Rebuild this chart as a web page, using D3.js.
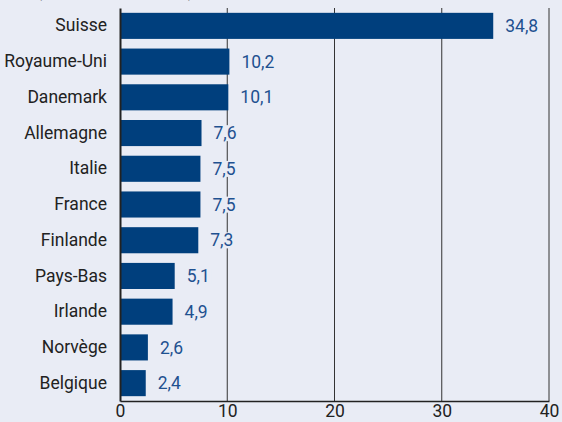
<!doctype html>
<html>
  <head>
    <script src="https://cdnjs.cloudflare.com/ajax/libs/d3/7.8.5/d3.min.js"></script>
    <style>
      body { margin: 0; background: #e9ecf5; }
      svg { display: block; font-family: Roboto, "Liberation Sans", sans-serif; }
    </style>
  </head>
  <body>
    <svg style="height: 422px; width: 562px;"></svg>
    <script>
        var pays = ["Suisse", "Royaume-Uni", "Danemark", "Allemagne", "Italie", "France",
                    "Finlande", "Pays-Bas", "Irlande", "Norvège", "Belgique"];
        var valeurs = [34.8, 10.2, 10.1, 7.6, 7.5, 7.5, 7.3, 5.1, 4.9, 2.6, 2.4];
        var ticks = [0, 10, 20, 30, 40];

        var svg = d3.select("svg");
        svg.append("rect").attr("width", 562).attr("height", 422).style("fill", "#e9ecf5");

        var xScale = d3.scaleLinear().domain([0, 40]).range([120, 549]);
        var yScale = d3.scaleBand().domain(pays).range([8, 401]).paddingInner(0.27).paddingOuter(0.135);

        // titre coupé en haut (comme dans l'original)
        svg.append("text").attr("x", 115).attr("y", -3).attr("text-anchor", "middle")
            .style("font-size", "17px").style("fill", "#333").text("(en milliards d'euros)");

        // grille verticale
        svg.append("g").selectAll("line").data(ticks.slice(1)).enter().append("line")
            .attr("x1", d => xScale(d)).attr("x2", d => xScale(d))
            .attr("y1", 8).attr("y2", 401)
            .style("stroke", "#333").style("stroke-width", "1px");

        var data = pays.map((p, i) => ({pays: p, val: valeurs[i]}));

        svg.append("g").selectAll("rect").data(data).enter().append("rect")
            .attr("x", xScale(0)).attr("y", d => yScale(d.pays))
            .attr("width", d => xScale(d.val) - xScale(0))
            .attr("height", yScale.bandwidth())
            .style("fill", "#003f7d");

        // étiquettes de valeur avec fond pour masquer la grille
        var lab = svg.append("g").selectAll("g").data(data).enter().append("g");
        lab.append("rect").style("fill", "#e9ecf5");
        lab.append("text")
            .attr("x", d => xScale(d.val) + 12)
            .attr("y", d => yScale(d.pays) + yScale.bandwidth() / 2)
            .attr("dy", "0.35em")
            .style("font-size", "17.5px").style("fill", "#1f5190")
            .text(d => String(d.val).replace(".", ","));
        lab.each(function() {
            var b = d3.select(this).select("text").node().getBBox();
            d3.select(this).select("rect")
                .attr("x", b.x - 2).attr("y", b.y + 2)
                .attr("width", b.width + 4).attr("height", b.height - 4);
        });

        var yAxis = d3.axisLeft(yScale).tickSize(0).tickPadding(13);
        var yG = svg.append("g").attr("transform", "translate(" + xScale(0) + ",0)").call(yAxis);
        yG.select(".domain").style("stroke", "#222").style("stroke-width", "2px");
        yG.selectAll("text").style("font-size", "17.5px").style("fill", "#222").style("font-family", "Roboto, sans-serif");

        var xAxis = d3.axisBottom(xScale).tickValues(ticks).tickSize(0).tickPadding(4);
        var xG = svg.append("g").attr("transform", "translate(0,401)").call(xAxis);
        xG.select(".domain").style("stroke", "#222").style("stroke-width", "1.5px");
        xG.selectAll("text").style("font-size", "17.5px").style("fill", "#222").style("font-family", "Roboto, sans-serif");
    </script>
  </body>
</html>
